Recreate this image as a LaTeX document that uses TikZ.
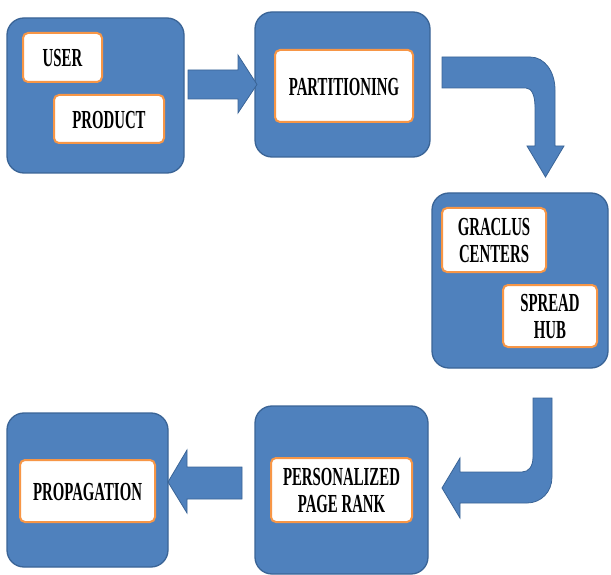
\documentclass[tikz,border=0pt]{standalone}
\usepackage{fontspec}
\setmainfont{Liberation Serif}
\usepackage{graphicx}
\definecolor{boxblue}{HTML}{4F81BD}
\definecolor{edgeblue}{HTML}{3A6496}
\definecolor{lborder}{HTML}{F79646}
\newcommand{\lbl}[1]{\raisebox{-4pt}[\height][\depth]{\scalebox{0.57}[1]{\fontsize{26}{27}\selectfont\bfseries\begin{tabular}{@{}c@{}}#1\end{tabular}}}}
\tikzset{
  outerbox/.style={draw=edgeblue, fill=boxblue, line width=1.3pt, rounded corners=17pt, inner sep=0pt},
  innerbox/.style={draw=lborder, fill=white, line width=2pt, rounded corners=5pt, inner sep=0pt, align=center},
  blockarrow/.style={draw=edgeblue, fill=boxblue, line width=0.8pt, line join=miter}
}
\begin{document}
\begin{tikzpicture}[x=1pt,y=-1pt]
\useasboundingbox (0,0) rectangle (611,575);
% outer boxes
\node[outerbox, minimum width=177pt, minimum height=155pt] (b1) at (95.5,95.5) {};
\node[outerbox, minimum width=175pt, minimum height=145pt] (b2) at (342.5,84.5) {};
\node[outerbox, minimum width=176pt, minimum height=175pt] (b3) at (520,280.5) {};
\node[outerbox, minimum width=173pt, minimum height=168pt] (b4) at (341.5,490) {};
\node[outerbox, minimum width=161pt, minimum height=154pt] (b5) at (87.5,490) {};
% inner boxes
\node[innerbox, minimum width=79pt, minimum height=49pt] (user) at (62.5,57.5) {\lbl{USER}};
\node[innerbox, minimum width=110pt, minimum height=48pt] (product) at (109,119) {\lbl{PRODUCT}};
\node[innerbox, minimum width=138pt, minimum height=72pt] (part) at (344,86) {\lbl{PARTITIONING}};
\node[innerbox, minimum width=104pt, minimum height=64pt] (graclus) at (494,240) {\lbl{GRACLUS\\CENTERS}};
\node[innerbox, minimum width=94pt, minimum height=62pt] (spread) at (550,316) {\lbl{SPREAD\\HUB}};
\node[innerbox, minimum width=141pt, minimum height=64pt] (ppr) at (341.5,490) {\lbl{PERSONALIZED\\PAGE RANK}};
\node[innerbox, minimum width=135pt, minimum height=62pt] (prop) at (87.5,491) {\lbl{PROPAGATION}};
% arrow 1: b1 -> b2
\draw[blockarrow] (188,70) -- (238,70) -- (238,55) -- (257,84.5) -- (238,113) -- (238,99) -- (188,99) -- cycle;
% arrow 2: b2 -> b3 (bent)
\draw[blockarrow] (442,57) -- (530,57) .. controls (545,57) and (555,72) .. (555,90)
  -- (555,146) -- (564,146) -- (545.5,177) -- (527,146) -- (535,146) -- (535,107)
  .. controls (535,96) and (532,88) .. (526,88) -- (442,88) -- cycle;
% arrow 3: b3 -> b4 (bent)
\draw[blockarrow] (533,398) -- (552,398) -- (552,477) .. controls (552,492) and (541,503) .. (527,503)
  -- (460,503) -- (460,518) -- (442,488) -- (460,458) -- (460,472) -- (522,472)
  .. controls (529,472) and (533,466) .. (533,457) -- cycle;
% arrow 4: b4 -> b5
\draw[blockarrow] (242,467) -- (187,467) -- (187,450) -- (168,482) -- (187,513) -- (187,499) -- (242,499) -- cycle;
\end{tikzpicture}
\end{document}
